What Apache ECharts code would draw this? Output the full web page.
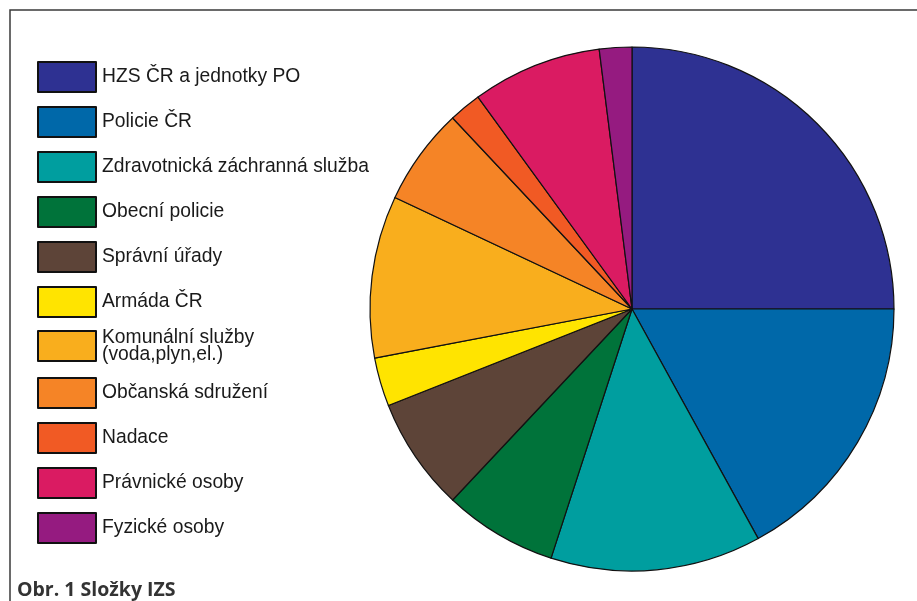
<!DOCTYPE html>
<html>
<head>
<meta charset="utf-8">
<script src="https://cdn.jsdelivr.net/npm/echarts@6/dist/echarts.min.js"></script>
<style>
html,body{margin:0;padding:0;background:#fff;}
#c{width:917px;height:601px;}
</style>
</head>
<body>
<div id="c"></div>
<script>
const categories = [
  'HZS ČR a jednotky PO',
  'Policie ČR',
  'Zdravotnická záchranná služba',
  'Obecní policie',
  'Správní úřady',
  'Armáda ČR',
  'Komunální služby\n(voda,plyn,el.)',
  'Občanská sdružení',
  'Nadace',
  'Právnické osoby',
  'Fyzické osoby'
];
const values = [25, 17, 13, 7, 7, 3, 10, 6, 2, 8, 2];
const colors = ['#2E3192','#0068A9','#009E9F','#00733A','#5D4438','#FFE400','#F9AE1D','#F58426','#F15A24','#DA1B62','#951B80'];

const legendBase = {
  orient: 'vertical',
  left: 37, padding: 0,
  itemWidth: 58, itemHeight: 30, itemGap: 13,
  icon: 'rect',
  textStyle: {fontFamily: 'Liberation Sans', fontSize: 19.3, color: '#1a1a1a', lineHeight: 17, padding: [0,0,0,1]}
};

const chart = echarts.init(document.getElementById('c'));
chart.setOption({
  animation: false,
  title: {
    text: 'Obr. 1 Složky IZS',
    left: 17, top: 580, padding: 0,
    textStyle: {fontFamily: 'Open Sans', fontWeight: 'bold', fontSize: 19.5, color: '#333'}
  },
  graphic: [{
    type: 'polyline',
    shape: {points: [[10, 601], [10, 10], [917, 10]]},
    style: {stroke: '#3a3a3a', lineWidth: 1.5, fill: null}
  }],
  legend: [
    Object.assign({}, legendBase, {top: 61, data: categories.slice(0, 6)}),
    Object.assign({}, legendBase, {top: 328, data: categories.slice(6)})
  ],
  series: [{
    type: 'pie',
    center: [632, 309],
    radius: 262,
    startAngle: 90,
    clockwise: true,
    label: {show: false},
    labelLine: {show: false},
    itemStyle: {borderColor: '#111', borderWidth: 1.2},
    emphasis: {disabled: true},
    data: categories.map((n, i) => ({name: n, value: values[i], itemStyle: {color: colors[i]}}))
  }]
});
</script>
</body>
</html>
